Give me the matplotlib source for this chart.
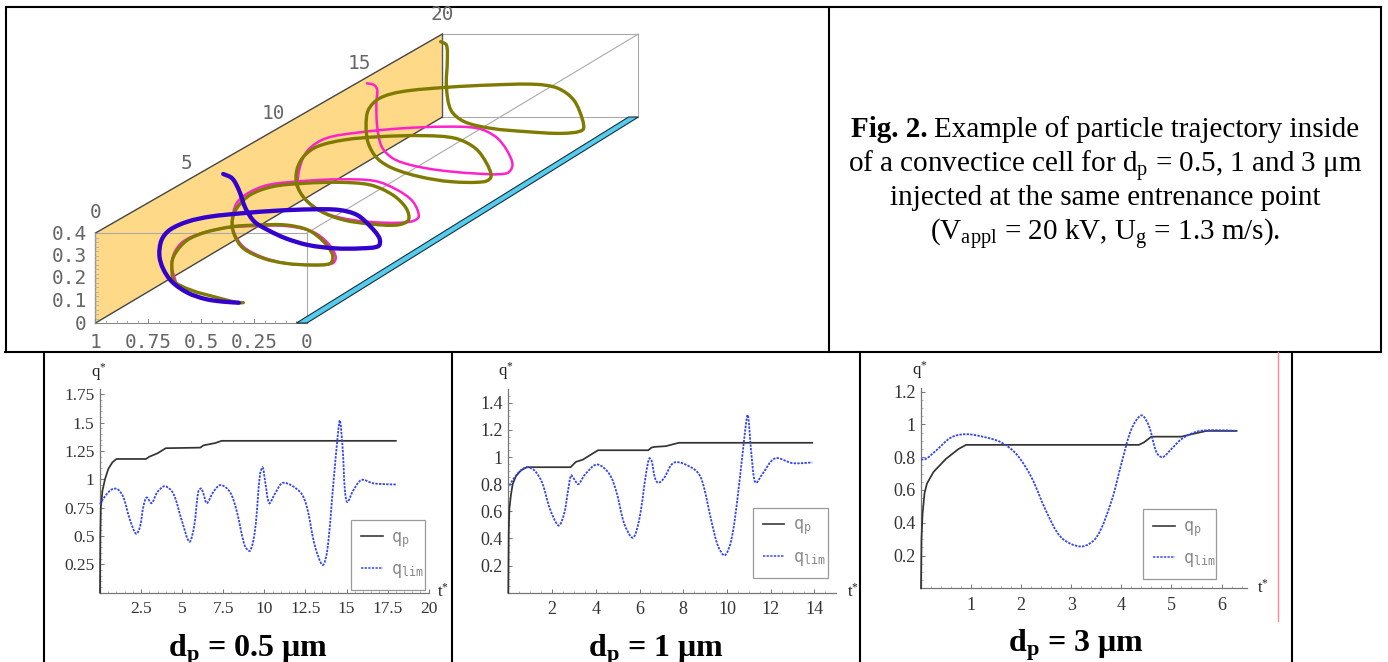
import matplotlib
matplotlib.use('Agg')
import matplotlib.pyplot as plt
import numpy as np
from matplotlib.lines import Line2D
from matplotlib.patches import PathPatch, Polygon
from matplotlib.path import Path
from matplotlib.ticker import FixedLocator
from matplotlib.transforms import IdentityTransform

plt.rcParams['font.family'] = ['Liberation Serif', 'DejaVu Sans']
plt.rcParams['mathtext.fontset'] = 'custom'
plt.rcParams['mathtext.rm'] = 'Liberation Serif'
plt.rcParams['mathtext.it'] = 'Liberation Serif:italic'
plt.rcParams['mathtext.bf'] = 'Liberation Serif:bold'

W, H = 1388, 662

# trajectories, (px, py) on the page
blue_u = [535,500,460,420,385,365,357,362,380,420,470,540,620,700,760,800,830,850,848,810,750,690,640,600,570,550,535,520,500]
blue_v = [908,905,897,878,845,805,765,720,690,665,650,640,632,628,630,645,680,715,738,745,745,735,715,690,665,625,570,535,522]
pink_u = [395,385,390,410,450,510,570,640,700,735,752,745,700,640,585,545,525,520,530,555,600,680,760,840,890,925,938,920,860,790,730,690,668,672,690,730,800,900,1000,1070,1110,1135,1148,1135,1060,980,920,880,855,845,843,845,838,822]
pink_v = [850,800,760,725,700,683,678,678,695,730,770,790,795,790,770,740,700,660,610,580,555,543,538,543,570,605,650,665,668,660,640,605,560,500,450,415,398,385,380,385,410,450,495,520,520,510,495,475,440,380,310,270,255,250]
olive_u = [545,530,395,385,395,420,460,520,580,640,690,725,745,740,700,640,590,545,525,520,530,560,610,680,760,830,880,910,915,890,830,770,720,685,665,665,680,710,770,850,950,1020,1065,1090,1100,1085,1010,940,880,845,825,820,825,850,900,1000,1100,1200,1250,1285,1305,1305,1260,1180,1100,1040,1010,1000,1002,1000,987]
olive_v = [908,908,850,790,755,720,697,680,675,675,690,725,765,790,795,790,775,745,705,665,625,585,560,550,547,555,585,625,660,675,672,660,635,600,555,510,470,440,420,410,407,415,445,490,530,545,545,530,505,475,430,380,330,295,275,262,255,253,265,300,360,390,400,395,385,365,330,260,180,135,125]

# panel data
t1_p = [0,0.02,0.05,0.15,0.3,0.5,0.75,1,2.8,3.0,3.5,4,6.1,6.3,7,7.4,18]
q1_p = [0,0.5,0.75,0.9,1.0,1.09,1.15,1.18,1.18,1.2,1.23,1.275,1.28,1.3,1.32,1.34,1.34]
t1_lim = [0,0.3,0.7,1.05,1.4,1.83,2.2,2.43,2.64,2.84,3.14,3.5,3.95,4.46,4.97,5.44,5.72,5.98,6.15,6.29,6.5,6.9,7.34,7.9,8.3,8.82,9.13,9.43,9.74,9.9,10.04,10.3,10.65,11.15,12.17,12.58,13.08,13.55,13.83,14.2,14.5,14.6,14.77,14.9,15.05,15.42,15.92,16.63,17.85,18]
q1_lim = [0.78,0.85,0.91,0.915,0.85,0.64,0.52,0.58,0.76,0.84,0.79,0.89,0.94,0.875,0.64,0.45,0.58,0.89,0.92,0.875,0.79,0.89,0.95,0.89,0.73,0.41,0.37,0.55,1.05,1.105,0.99,0.79,0.875,0.97,0.89,0.76,0.41,0.245,0.375,0.965,1.435,1.52,1.26,0.905,0.80,0.905,0.995,0.965,0.955,0.955]

t2_p = [0,0.02,0.05,0.12,0.2,0.35,0.6,0.85,2.85,3,3.1,3.4,3.7,4.1,6.4,6.55,6.7,7.2,7.8,13.9]
q2_p = [0,0.45,0.62,0.72,0.8,0.86,0.905,0.925,0.925,0.95,0.965,0.98,1.01,1.05,1.05,1.07,1.075,1.08,1.105,1.105]
t2_lim = [0.05,0.2,0.5,0.85,1.2,1.55,1.9,2.3,2.55,2.75,2.87,3.0,3.2,3.5,4.05,4.6,4.95,5.3,5.7,6.0,6.3,6.45,6.55,6.7,6.85,7.1,7.6,8.5,8.85,9.3,9.6,9.9,10.2,10.5,10.8,10.95,11.1,11.25,11.35,11.6,12.2,13,13.9]
q2_lim = [0.79,0.83,0.89,0.925,0.9,0.81,0.62,0.495,0.58,0.77,0.865,0.84,0.80,0.87,0.945,0.88,0.74,0.51,0.405,0.55,0.88,0.99,0.975,0.85,0.81,0.84,0.96,0.91,0.83,0.52,0.34,0.275,0.39,0.72,1.15,1.31,1.05,0.83,0.81,0.87,0.99,0.955,0.96]

t3_p = [0,0.01,0.03,0.07,0.12,0.25,0.5,0.75,0.9,4.35,4.45,4.6,5.2,5.4,5.7,6.3]
q3_p = [0,0.3,0.45,0.58,0.64,0.71,0.79,0.85,0.875,0.875,0.89,0.925,0.925,0.94,0.96,0.96]
t3_lim = [0,0.1,0.3,0.6,0.9,1.3,1.6,1.9,2.2,2.5,2.8,3.2,3.5,3.8,4.0,4.2,4.4,4.55,4.7,4.82,5.0,5.2,5.5,5.8,6.3]
q3_lim = [0.785,0.79,0.84,0.92,0.94,0.92,0.89,0.82,0.68,0.47,0.31,0.255,0.31,0.53,0.76,0.97,1.055,0.99,0.83,0.80,0.85,0.91,0.955,0.965,0.96]

x_ticks_3d = [1, 0.75, 0.5, 0.25, 0]
x_labels_3d = ['1', '0.75', '0.5', '0.25', '0']
z_ticks_3d = [0, 0.1, 0.2, 0.3, 0.4]
t_ticks_3d = [0, 5, 10, 15, 20]


def project(x, t, z):
    return (95.5 + (1 - x) * (211.5 - 0.775 * t) + t * 17.345,
            323 - z / 0.4 * (90 - 0.35 * t) - t * 10.3)


def seg(ax, a, b, color='#aaaaaa', lw=0.8, zorder=2):
    pa, pb = project(*a), project(*b)
    ax.plot([pa[0], pb[0]], [pa[1], pb[1]], color=color, lw=lw, zorder=zorder)


def smooth(ax, x, y, sx=1.0, sy=1.0, **kw):
    # bezier through the read points, no extra data
    p = np.column_stack([x, y]).astype(float)
    d = np.hypot((p[1:, 0] - p[:-1, 0]) * sx, (p[1:, 1] - p[:-1, 1]) * sy)
    tan = np.zeros_like(p)
    tan[1:-1] = p[2:] - p[:-2]
    tan[0] = p[1] - p[0]
    tan[-1] = p[-1] - p[-2]
    verts = [p[0]]
    codes = [Path.MOVETO]
    for i in range(len(p) - 1):
        da = d[i - 1] + d[i] if i > 0 else 2 * d[i]
        db = d[i] + d[i + 1] if i < len(d) - 1 else 2 * d[i]
        verts += [p[i] + tan[i] * d[i] / da / 3, p[i + 1] - tan[i + 1] * d[i] / db / 3, p[i + 1]]
        codes += [Path.CURVE4] * 3
    ax.add_patch(PathPatch(Path(verts, codes), fill=False, **kw))


fig = plt.figure(figsize=(W / 100, H / 100), dpi=100)
bg = fig.add_axes([0, 0, 1, 1])
bg.set_xlim(0, W)
bg.set_ylim(H, 0)
bg.axis('off')

# table rules
for xs, ys in [([6, 1381], [7, 7]), ([5, 1381], [352, 352]), ([6, 6], [7, 352]), ([829, 829], [7, 352]),
               ([1381, 1381], [7, 352]), ([44, 44], [352, 662]), ([452, 452], [352, 662]),
               ([860, 860], [352, 662]), ([1292, 1292], [352, 662])]:
    bg.plot(xs, ys, color='black', lw=1.5, solid_capstyle='projecting')
bg.plot([1278, 1278], [352, 621], color='#ff8888', lw=1)

# 3d box
wall = [project(1, 0, 0), project(1, 0, 0.4), project(1, 20, 0.4), project(1, 20, 0)]
bg.add_patch(Polygon(wall, closed=True, facecolor='#fdd988', edgecolor='none', zorder=1))
for a, b in [((1, 0, 0.4), (0, 0, 0.4)), ((0, 0, 0.4), (0, 0, 0)), ((1, 20, 0.4), (0, 20, 0.4)),
             ((0, 20, 0.4), (0, 20, 0)), ((1, 20, 0), (0, 20, 0)), ((0, 0, 0.4), (0, 20, 0.4))]:
    seg(bg, a, b)
seg(bg, (1, 0, 0), (0, 0, 0), color='#888888')
seg(bg, (1, 0, 0.4), (1, 20, 0.4), color='#444444', lw=1)
seg(bg, (1, 0, 0), (1, 20, 0), color='#444444', lw=1)
seg(bg, (1, 20, 0), (1, 20, 0.4), color='#555555', lw=1)
seg(bg, (1, 0, 0), (1, 0, 0.4), color='#999999', lw=1)
strip = [project(0.05, 0, 0), project(0, 0, 0), project(0, 20, 0), project(0.05, 20, 0)]
bg.add_patch(Polygon(strip, closed=True, facecolor='#55ccee', edgecolor='#16303a', lw=0.8, zorder=3))

for x in np.arange(0.05, 1.0, 0.05):
    seg(bg, (x, 0, 0), (x, 0, 0.008), color='#999999', lw=0.6)
for z in np.arange(0.02, 0.4, 0.02):
    seg(bg, (1, 0, z), (0.99, 0, z), color='#aaaaaa', lw=0.6)
for x, lab in zip(x_ticks_3d, x_labels_3d):
    px, py = project(x, 0, 0)
    bg.text(px, 342, lab, family='DejaVu Sans Mono', fontsize=14, color='#666666', ha='center', va='center')
    seg(bg, (x, 0, 0), (x, 0, 0.016), color='#888888', lw=0.7)
for z in z_ticks_3d:
    px, py = project(1, 0, z)
    lab = '0' if z == 0 else f'{z:.1f}'
    bg.text(87, py + 1, lab, family='DejaVu Sans Mono', fontsize=14, color='#666666', ha='right', va='center')
for t in t_ticks_3d:
    px, py = project(1, t, 0.4)
    bg.text(px + (4 if 0 < t < 20 else 0), py - 20, str(t), family='DejaVu Sans Mono', fontsize=14,
            color='#666666', ha='center', va='center')

for u, v, col, lw, zo in [(pink_u, pink_v, '#ff22cc', 1.8, 4), (olive_u, olive_v, '#7f7a00', 2.4, 5),
                          (blue_u, blue_v, '#3300cc', 3.1, 6)]:
    smooth(bg, np.array(u) / 2.24, np.array(v) / 3, color=col, lw=lw, zorder=zo, capstyle='round', joinstyle='round')

# caption
cap_fs = 21
renderer = fig.canvas.get_renderer()
t_bold = bg.text(0, 137, 'Fig. 2.', fontsize=cap_fs, fontweight='bold', ha='left', va='baseline')
t_rest = bg.text(0, 137, 'Example of particle trajectory inside', fontsize=cap_fs, ha='left', va='baseline')
w_bold = t_bold.get_window_extent(renderer).width
w_rest = t_rest.get_window_extent(renderer).width
x_start = 1105 - (w_bold + w_rest + 6) / 2
t_bold.set_x(x_start)
t_rest.set_x(x_start + w_bold + 6)
for s, y in [(r'of a convectice cell for d$_{\mathrm{p}}$ = 0.5, 1 and 3 μm', 173),
             ('injected at the same entrenance point', 205),
             (r'(V$_{\mathrm{appl}}$ = 20 kV, U$_{\mathrm{g}}$ = 1.3 m/s).', 240.5)]:
    bg.text(1105, y, s, fontsize=cap_fs, ha='center', va='baseline', color='black')

# sub labels
for s, x, y in [(r'd$_{\mathbf{p}}$ = 0.5 μm', 248, 656), (r'd$_{\mathbf{p}}$ = 1 μm', 656, 656),
                (r'd$_{\mathbf{p}}$ = 3 μm', 1076, 651.5)]:
    bg.text(x, y, s, fontsize=23, fontweight='bold', ha='center', va='baseline', color='black')


def panel(ox, oy, w, h, xlim, ylim, xt, xl, yt, yl, xminor, yminor, tp, qp, tl, ql, box, qx, tx, fs):
    ax = fig.add_axes([ox / W, 1 - oy / H, w / W, h / H])
    ax.patch.set_alpha(0)
    ax.set_xlim(*xlim)
    ax.set_ylim(*ylim)
    for s in ['top', 'right']:
        ax.spines[s].set_visible(False)
    for s in ['left', 'bottom']:
        ax.spines[s].set_color('#777777')
        ax.spines[s].set_linewidth(0.9)
    ax.set_xticks(xt, xl)
    ax.set_yticks(yt, yl)
    ax.xaxis.set_minor_locator(FixedLocator(xminor))
    ax.yaxis.set_minor_locator(FixedLocator(yminor))
    ax.tick_params(which='major', direction='in', length=3, width=0.7, color='#777777',
                   labelsize=fs, labelcolor='#333333', pad=6)
    ax.tick_params(which='minor', direction='in', length=1.5, width=0.5, color='#999999')
    ax.tick_params(axis='y', which='major', pad=4)
    ax.plot(tp, qp, color='#333333', lw=1.25, clip_on=False, zorder=3)
    smooth(ax, tl, ql, sx=w / (xlim[1] - xlim[0]), sy=h / (ylim[1] - ylim[0]), color='#3344ee', lw=1.3,
           ls=(0, (1.3, 0.7)), clip_on=False, zorder=4)
    handles = [Line2D([], [], color='#444444', lw=1.25), Line2D([], [], color='#5566ee', lw=1.3, ls=(0, (1.3, 0.7)))]
    leg = ax.legend(handles, [r'$\mathtt{q}_{\mathtt{p}}$', r'$\mathtt{q}_{\mathtt{lim}}$'],
                    loc='lower left', bbox_to_anchor=(box[0], H - box[3], box[2] - box[0], box[3] - box[1]),
                    bbox_transform=IdentityTransform(), mode='expand', fontsize=12, handlelength=1.3,
                    handletextpad=0.5, labelspacing=0.75, borderpad=0.6, borderaxespad=0, fancybox=False,
                    framealpha=1, edgecolor='#999999', labelcolor='#888888')
    leg.get_frame().set_linewidth(0.9)
    bg.text(qx[0], qx[1], 'q$^{*}$', fontsize=12, color='#222222', ha='center', va='center')
    bg.text(tx[0], tx[1], 't$^{*}$', fontsize=12, color='#222222', ha='center', va='center')


panel(100, 592.7, 328.7, 204, (0, 20), (0, 1.8), [2.5, 5, 7.5, 10, 12.5, 15, 17.5, 20],
      ['2.5', '5', '7.5', '10', '12.5', '15', '17.5', '20'],
      [0.25, 0.5, 0.75, 1, 1.25, 1.5, 1.75], ['0.25', '0.5', '0.75', '1', '1.25', '1.5', '1.75'],
      np.arange(0.5, 20, 0.5), np.arange(0.05, 1.8, 0.05), t1_p, q1_p, t1_lim, q1_lim,
      (351, 537.3, 425, 590), (99, 372), (443, 592), 12.5)
panel(508.3, 592.7, 328, 203.5, (0, 15), (0, 1.5), [2, 4, 6, 8, 10, 12, 14],
      ['2', '4', '6', '8', '10', '12', '14'],
      [0.2, 0.4, 0.6, 0.8, 1, 1.2, 1.4], ['0.2', '0.4', '0.6', '0.8', '1', '1.2', '1.4'],
      np.arange(0.5, 15, 0.5), np.arange(0.05, 1.5, 0.05), t2_p, q2_p, t2_lim, q2_lim,
      (752.7, 524.3, 827.7, 577.7), (506, 371), (853, 592), 13)
panel(921, 588.3, 325.6, 200, (0, 6.5), (0, 1.22), [1, 2, 3, 4, 5, 6],
      ['1', '2', '3', '4', '5', '6'],
      [0.2, 0.4, 0.6, 0.8, 1, 1.2], ['0.2', '0.4', '0.6', '0.8', '1', '1.2'],
      np.arange(0.2, 6.5, 0.2), np.arange(0.05, 1.2, 0.05), t3_p, q3_p, t3_lim, q3_lim,
      (1143.3, 527.7, 1216.3, 579.3), (920, 370), (1263, 588), 13)

fig.savefig('out.png', dpi=100)
